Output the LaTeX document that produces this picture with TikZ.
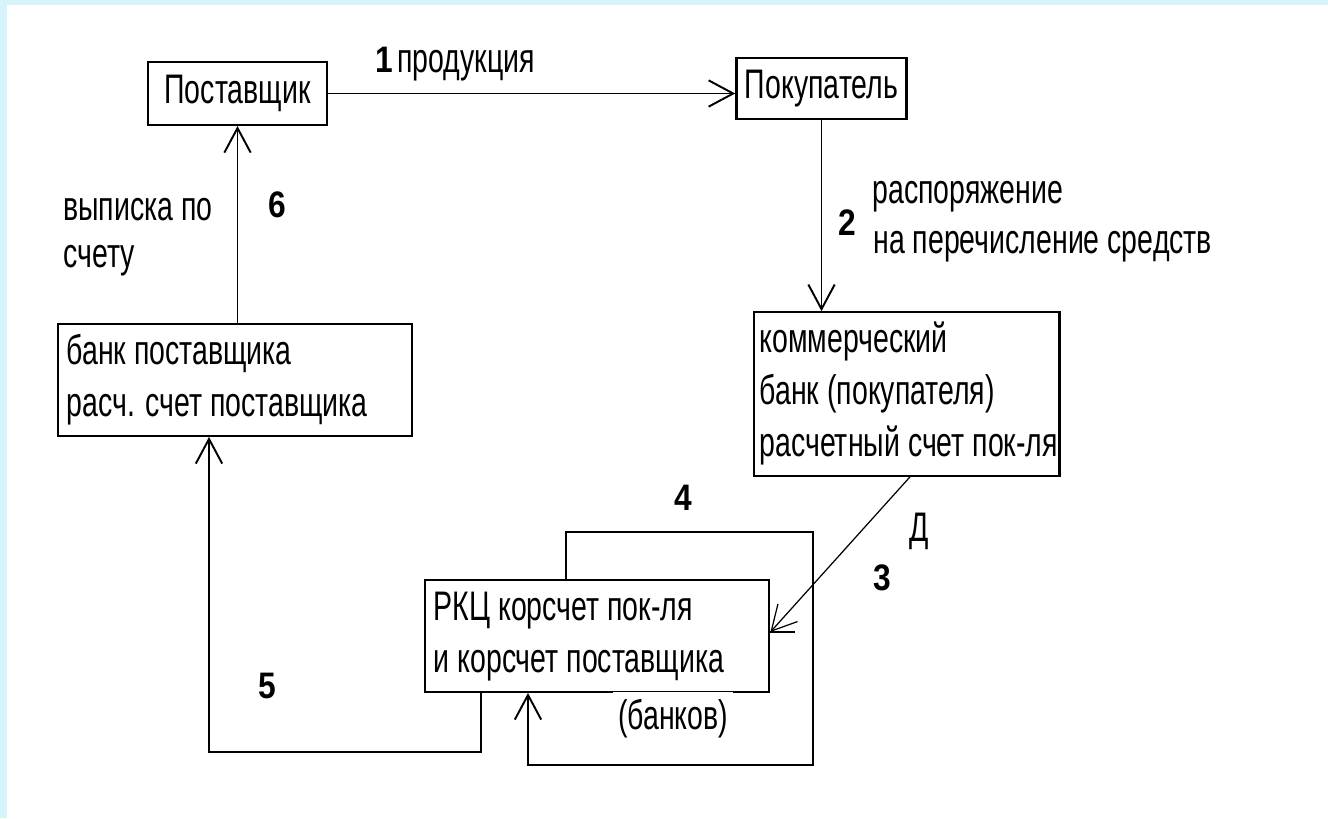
\documentclass[tikz,border=0pt]{standalone}
\usepackage{fontspec}
\setmainfont{Liberation Sans}[FakeStretch=0.69]
\newfontfamily\numfont{Liberation Sans}[FakeStretch=0.86]
\usetikzlibrary{arrows.meta,calc}

\definecolor{frameblue}{RGB}{214,244,250}
\def\pxu{0.02cm}
\newcommand\boxlines[2]{\makebox[#1][l]{\begin{tabular}{@{}l@{}}#2\end{tabular}}}

\tikzset{
  box/.style={draw, line width=1.3pt, inner xsep=5.1pt, inner ysep=0pt,
    font=\fontsize{23.5}{29.5}\selectfont},
  conn/.style={line width=1.1pt, -{Straight Barb[length=14pt,width=15pt]}},
  plain/.style={line width=1.1pt},
  txt/.style={inner sep=0pt, font=\fontsize{23.5}{29.5}\selectfont},
  num/.style={inner sep=0pt, font=\numfont\bfseries\fontsize{21}{24}\selectfont},
}

\begin{document}
\begin{tikzpicture}[x=\pxu, y=-\pxu]
  \fill[white] (0,0) rectangle (1328,818);
  \fill[frameblue] (0,0) rectangle (1328,5);
  \fill[frameblue] (0,0) rectangle (7,818);
  \useasboundingbox (0,0) rectangle (1328,818);

  % boxes
  \node[box, minimum width=101.5pt, minimum height=35.7pt] (sup) at (237.5,93.5) {Поставщик};
  \node[box, inner xsep=2pt, minimum width=96.9pt, minimum height=34.6pt] (buy) at (821.5,88.5) {Покупатель};
  \node[box, inner xsep=3.4pt, minimum width=174pt, minimum height=93pt] (cbank) at (906.5,394)
    {\boxlines{167.2pt}{коммерческий\\банк (покупателя)\\расчетный счет пок-ля}};
  \node[box, minimum width=201.8pt, minimum height=63.5pt] (sbank) at (235,380)
    {\boxlines{191.6pt}{банк поставщика\\расч. счет поставщика}};
  \node[box, minimum width=196.1pt, minimum height=63.5pt] (rkc) at (597,636)
    {\boxlines{185.9pt}{РКЦ корсчет пок-ля\\и корсчет поставщика}};
  \node[txt, fill=white, inner xsep=3pt, inner ysep=4pt, anchor=base] (rkcb) at (673,729) {(банков)};

  % helper points
  \coordinate (l4a) at (566,532);
  \coordinate (l4b) at (813,765);
  \coordinate (l4c) at (528,0);
  \coordinate (l5a) at (481,752);
  \coordinate (l5b) at (209,0);

  % connectors
  \draw[conn] (sup.east) -- (sup.east -| buy.west);
  \draw[conn] (buy.south) -- (buy.south |- cbank.north);
  \draw[conn, line width=0.7pt] ($(cbank.south)+(3.5,0)$) -- ($(rkc.east)+(0,-4)$);
  \draw[plain] ($(rkc.east)+(0,-4)$) -- ++(25,0);
  \draw[conn] (rkc.north -| l4a) -- (l4a) -| (l4b) -| (rkc.south -| l4c);
  \draw[conn] (rkc.south -| l5a) -- (l5a) -| (sbank.south -| l5b);
  \draw[conn] (sbank.north -| sup.south) -- (sup.south);

  % labels
  \node[num, anchor=base] (n1) at (384,72) {1};
  \node[txt, anchor=base west] (prod) at (397,72) {продукция};
  \node[num, anchor=base] (n2) at (847,235) {2};
  \node[txt, anchor=base west] (ord1) at (872,203) {распоряжение};
  \node[txt, anchor=base west] (ord2) at (873,253) {на перечисление средств};
  \node[num, anchor=base] (n3) at (882,590) {3};
  \node[txt, anchor=base] (dd) at (919,541) {Д};
  \node[num, anchor=base] (n4) at (683,510) {4};
  \node[num, anchor=base] (n5) at (267,698) {5};
  \node[num, anchor=base] (n6) at (277,217) {6};
  \node[txt, anchor=base west] (st1) at (63,220) {выписка по};
  \node[txt, anchor=base west] (st2) at (63,267) {счету};
\end{tikzpicture}
\end{document}
